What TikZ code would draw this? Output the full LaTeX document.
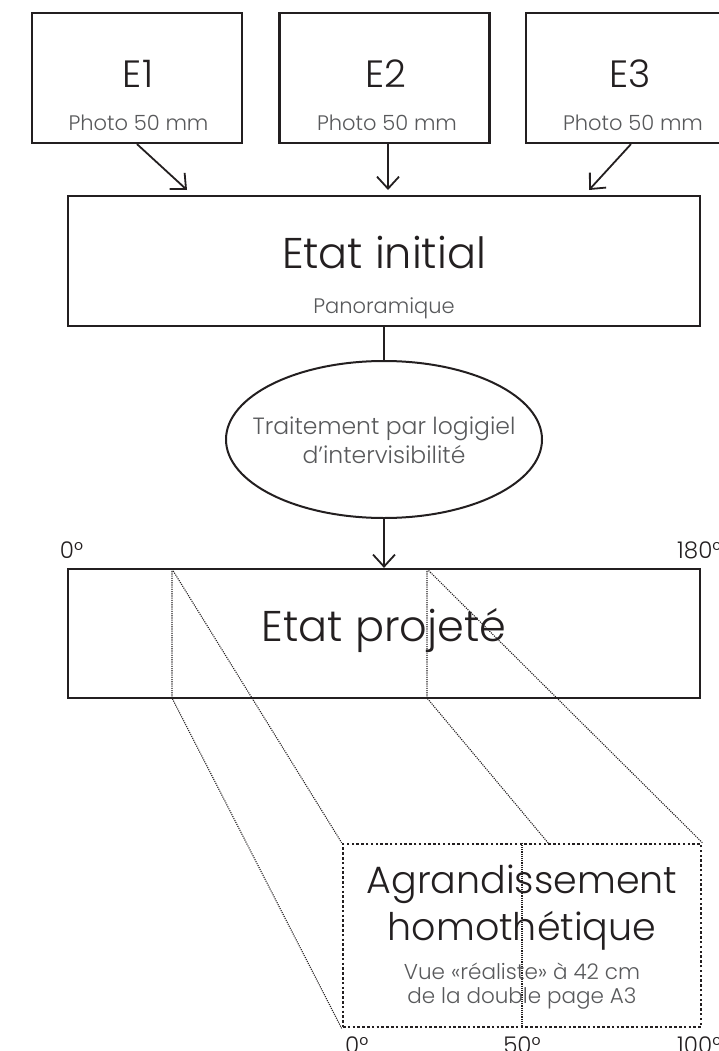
\documentclass[tikz,border=0pt]{standalone}
\usepackage{fontspec}
\setmainfont{Poppins}[UprightFont=* Light]
\usetikzlibrary{shapes.geometric,arrows.meta}
\definecolor{Ink}{RGB}{35,31,32}
\definecolor{Grey}{RGB}{88,89,91}

\begin{document}
\begin{tikzpicture}[x=1pt,y=-1pt,
  box/.style={draw=Ink,line width=2.2pt,inner sep=0pt},
  oval/.style={ellipse,draw=Ink,line width=2pt,inner sep=0pt,minimum width=316pt,minimum height=157pt},
  dotbox/.style={draw=Ink,line width=2.7pt,dash pattern=on 2.5pt off 2.3pt,inner sep=0pt},
  flow/.style={draw=Ink,line width=1.8pt,-{Straight Barb[length=12pt,width=22pt]}},
  link/.style={draw=Ink,line width=1.8pt},
  fine/.style={draw=Ink,line width=1.1pt,dash pattern=on 1.1pt off 1.1pt},
  big/.style={anchor=base,inner sep=0pt,text=Ink,font=\fontsize{43}{48}\selectfont},
  ename/.style={anchor=base,inner sep=0pt,text=Ink,font=\fontsize{38}{42}\selectfont},
  zoomtext/.style={anchor=base,inner sep=0pt,text=Ink,font=\fontsize{38}{42}\selectfont},
  small/.style={anchor=base,inner sep=0pt,text=Grey,font=\fontsize{21}{25}\selectfont},
  proctext/.style={anchor=base,inner sep=0pt,text=Grey,font=\fontsize{23.5}{28}\selectfont},
  note/.style={anchor=base,inner sep=0pt,text=Grey,font=\fontsize{21.5}{26}\selectfont},
  deg/.style={anchor=base,inner sep=0pt,text=Ink,font=\fontsize{23}{27}\selectfont}]
\useasboundingbox (0,0) rectangle (719,1051);
\clip (0,0) rectangle (719,1051);
% three photos
\node[box,minimum width=210pt,minimum height=130pt] (e1) at (137,78) {};
\node[box,minimum width=210pt,minimum height=130pt] (e2) at (384.5,78) {};
\node[box,minimum width=210pt,minimum height=130pt] (e3) at (631,78) {};
\node[ename] (e1t) at (138,88) {E1};
\node[ename] (e2t) at (386,88) {E2};
\node[ename] (e3t) at (630,88) {E3};
\node[small] (e1p) at (138.5,131) {Photo 50 mm};
\node[small] (e2p) at (387,131) {Photo 50 mm};
\node[small] (e3p) at (633,131) {Photo 50 mm};
% initial state
\node[box,minimum width=632pt,minimum height=130pt] (init) at (384,261) {};
\node[big] (initt) at (384,268) {Etat initial};
\node[small] (initp) at (384,313) {Panoramique};
\coordinate (a1) at (187,190);
\coordinate (a2) at (388,190);
\coordinate (a3) at (589,190);
\draw[flow] (e1.south) -- (a1);
\draw[flow] ([xshift=3.5pt]e2.south) -- (a2);
\draw[flow] (e3.south) -- (a3);
% processing
\node[oval] (proc) at (384,439.5) {};
\node[proctext] (proct1) at (384,434) {Traitement par logigiel};
\node[proctext] (proct2) at (384,463) {d’intervisibilité};
\draw[link] (init.south) -- (proc.north);
% projected state
\node[box,minimum width=632pt,minimum height=129pt] (proj) at (384,633.5) {};
\node[big] (projt) at (384,641) {Etat projeté};
\node[deg] (d0) at (71.5,558) {0°};
\node[deg,anchor=base west] (d180) at (677,558) {180°};
\draw[flow] (proc.south) -- (proj.north);
% enlargement
\node[dotbox,minimum width=358pt,minimum height=183pt] (agr) at (522,935.5) {};
\coordinate (cla) at (172,569);
\coordinate (clb) at (172,698);
\coordinate (cra) at (427,569);
\coordinate (crb) at (427,698);
\coordinate (cmid) at (549,844);
\draw[fine] (cla) -- (clb) -- (agr.south west);
\draw[fine] (cla) -- (agr.north west);
\draw[fine] (cra) -- (crb) -- (cmid);
\draw[fine] (cra) -- (agr.north east);
\draw[fine] (agr.north) -- (agr.south);
\node[zoomtext] (agrt1) at (522,893) {Agrandissement};
\node[zoomtext] (agrt2) at (522,940) {homothétique};
\node[note] (agrn1) at (522,979) {Vue «réaliste» à 42 cm};
\node[note] (agrn2) at (522,1003) {de la double page A3};
\node[deg,anchor=base west] (b0) at (345,1053) {0°};
\node[deg] (b50) at (522,1053) {50°};
\node[deg,anchor=base west] (b100) at (677,1053) {100°};
\end{tikzpicture}
\end{document}
